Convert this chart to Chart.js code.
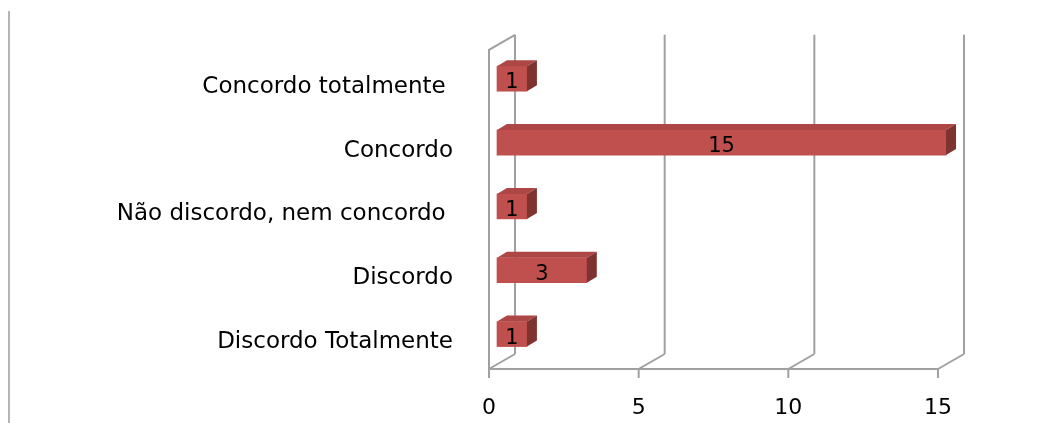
<!DOCTYPE html>
<html>
<head>
<meta charset="utf-8">
<script src="https://cdn.jsdelivr.net/npm/chart.js@4/dist/chart.umd.min.js"></script>
<style>
    html, body { margin: 0; padding: 0; background: #fff; }
    #wrap { width: 1050px; height: 423px; position: relative; }
</style>
</head>
<body>
<div id="wrap"><canvas id="chart"></canvas></div>
<script>
// ---- data ----
const categories = ['Concordo totalmente ', 'Concordo', 'Não discordo, nem concordo ', 'Discordo', 'Discordo Totalmente'];
const responses = [1, 15, 1, 3, 1];
const xTicks = [0, 5, 10, 15];

// ---- look ----
const FONT = 'DejaVu Sans';
const WALL = '#a0a0a0';
const BAR_FRONT = '#c0504d';
const BAR_TOP = '#ac4745';
const BAR_SIDE = '#7f3331';
const DEPTH = { dx: 26, dy: -15 };      // floor / walls
const BAR_DEPTH = { dx: 10, dy: -6 };   // box depth of each bar
const BAR_SHIFT = { x: 8, y: -3 };      // bars sit a little inside the floor

// walls, floor and left frame line
const wallsPlugin = {
    id: 'walls',
    beforeDatasetsDraw(chart) {
        const { ctx, chartArea, scales } = chart;
        const x = scales.x;
        const bottom = chartArea.bottom;
        const top = chartArea.top;

        ctx.save();
        // page frame line on the far left
        ctx.strokeStyle = '#9c9c9c';
        ctx.lineWidth = 1.5;
        ctx.beginPath();
        ctx.moveTo(9, 11);
        ctx.lineTo(9, 423);
        ctx.stroke();

        ctx.strokeStyle = WALL;
        ctx.lineWidth = 2;
        ctx.beginPath();
        // front floor edge
        ctx.moveTo(x.getPixelForValue(xTicks[0]), bottom);
        ctx.lineTo(x.getPixelForValue(xTicks[xTicks.length - 1]), bottom);
        xTicks.forEach(v => {
            const px = x.getPixelForValue(v);
            // floor slant
            ctx.moveTo(px, bottom);
            ctx.lineTo(px + DEPTH.dx, bottom + DEPTH.dy);
            // back wall gridline
            ctx.moveTo(px + DEPTH.dx, bottom + DEPTH.dy);
            ctx.lineTo(px + DEPTH.dx, top + DEPTH.dy);
            // tick mark
            ctx.moveTo(px, bottom);
            ctx.lineTo(px, bottom + 9);
        });
        // left side wall
        const x0 = x.getPixelForValue(xTicks[0]);
        ctx.moveTo(x0, bottom);
        ctx.lineTo(x0, top);
        ctx.lineTo(x0 + DEPTH.dx, top + DEPTH.dy);
        ctx.stroke();
        ctx.restore();

        // shift the bars for the next pass
        ctx.save();
        ctx.translate(BAR_SHIFT.x, BAR_SHIFT.y);
    },
    afterDatasetsDraw(chart) {
        const { ctx } = chart;
        const meta = chart.getDatasetMeta(0);
        meta.data.forEach((bar, i) => {
            const p = bar.getProps(['x', 'y', 'base', 'height'], true);
            const t = p.y - p.height / 2;
            const b = p.y + p.height / 2;
            const l = Math.min(p.base, p.x);
            const r = Math.max(p.base, p.x);
            // top face
            ctx.fillStyle = BAR_TOP;
            ctx.beginPath();
            ctx.moveTo(l, t);
            ctx.lineTo(r, t);
            ctx.lineTo(r + BAR_DEPTH.dx, t + BAR_DEPTH.dy);
            ctx.lineTo(l + BAR_DEPTH.dx, t + BAR_DEPTH.dy);
            ctx.closePath();
            ctx.fill();
            // right face
            ctx.fillStyle = BAR_SIDE;
            ctx.beginPath();
            ctx.moveTo(r, t);
            ctx.lineTo(r + BAR_DEPTH.dx, t + BAR_DEPTH.dy);
            ctx.lineTo(r + BAR_DEPTH.dx, b + BAR_DEPTH.dy);
            ctx.lineTo(r, b);
            ctx.closePath();
            ctx.fill();
            // value label
            ctx.fillStyle = '#000';
            ctx.font = '21px ' + FONT;
            ctx.textAlign = 'center';
            ctx.textBaseline = 'middle';
            ctx.fillText(String(responses[i]), (l + r) / 2, p.y + 4);
        });
        ctx.restore();
    }
};

const chart = new Chart(document.getElementById('chart'), {
    type: 'bar',
    data: {
        labels: categories,
        datasets: [{
            data: responses,
            backgroundColor: BAR_FRONT,
            borderWidth: 0,
            barThickness: 25,
            clip: false
        }]
    },
    options: {
        indexAxis: 'y',
        responsive: true,
        maintainAspectRatio: false,
        animation: false,
        layout: { padding: { top: 45, right: 112, left: 0, bottom: 0 } },
        plugins: { legend: { display: false }, tooltip: { enabled: false } },
        scales: {
            x: {
                min: xTicks[0],
                max: xTicks[xTicks.length - 1],
                grid: { display: false, drawTicks: false },
                border: { display: false },
                ticks: {
                    stepSize: xTicks[1] - xTicks[0],
                    padding: 26,
                    color: '#000',
                    font: { family: FONT, size: 22 }
                },
                afterFit(scale) { scale.height = 54; }
            },
            y: {
                grid: { display: false, drawTicks: false },
                border: { display: false },
                ticks: {
                    padding: 36,
                    labelOffset: 5,
                    color: '#000',
                    font: { family: FONT, size: 23 }
                },
                afterFit(scale) { scale.width = 489; }
            }
        }
    },
    plugins: [wallsPlugin]
});
</script>
</body>
</html>
